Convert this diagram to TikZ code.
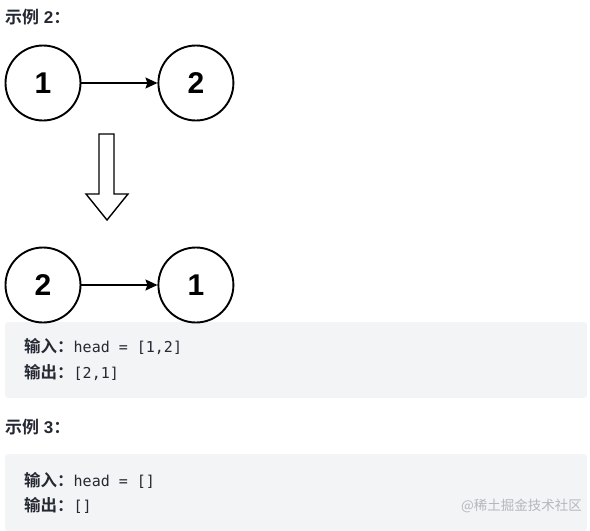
\documentclass[tikz,border=0pt]{standalone}
\usepackage{fontspec}
\setmainfont{Liberation Sans}
\setmonofont{DejaVu Sans Mono}
\newfontfamily\cjk{Noto Sans CJK SC}[BoldFont={Noto Sans CJK SC Bold}]
\usetikzlibrary{arrows.meta, positioning}
\definecolor{codebg}{HTML}{F3F4F5}
\definecolor{ink}{HTML}{252933}
\definecolor{wmgray}{HTML}{B4B7BC}
\tikzset{
  listnode/.style={circle, draw=black, line width=1.9pt, minimum size=75pt, inner sep=0pt, font=\fontsize{30}{30}\selectfont\bfseries},
  link/.style={-{Stealth[length=12pt,width=11pt,inset=2pt]}, line width=1.6pt},
  codebox/.style={fill=codebg, rounded corners=3pt},
  heading/.style={anchor=base west, inner sep=0pt, text=ink, font=\fontsize{17}{20}\selectfont\bfseries},
  codeline/.style={anchor=base west, inner sep=0pt, text=ink, font=\fontsize{15}{18}\selectfont},
  hollow/.style={draw=black, line width=1.4pt, line join=miter, fill=white},
}
\newcommand{\lbl}[1]{{\cjk\bfseries\fontsize{16.5}{18}\selectfont #1}}
\newcommand{\code}[1]{{\ttfamily #1}}

\begin{document}
\begin{tikzpicture}[x=1pt, y=-1pt, node distance=76pt]
\useasboundingbox (0,0) rectangle (590,531);
% grey code panels
\fill[codebox] (5,322) rectangle (587,398);
\fill[codebox] (5,454) rectangle (587,531);

\node[heading] (ex2) at (5,23) {{\cjk 示例} 2{\cjk ：}};

% before
\node[listnode] (a1) at (43,83) {1};
\node[listnode, right=of a1] (a2) {2};
\draw[link] (a1) -- (a2);

% big down arrow
\draw[hollow] (99,134) -- (114,134) -- (114,194) -- (128,194) -- (107,220) -- (86,194) -- (99,194) -- cycle;

% after
\node[listnode] (b2) at (43,285) {2};
\node[listnode, right=of b2] (b1) {1};
\draw[link] (b2) -- (b1);

\node[codeline] (in2) at (24,352) {\lbl{输入：}\code{head = [1,2]}};
\node[codeline] (out2) at (24,378) {\lbl{输出：}\code{[2,1]}};

\node[heading] (ex3) at (5,433) {{\cjk 示例} 3{\cjk ：}};
\node[codeline] (in3) at (24,486) {\lbl{输入：}\code{head = []}};
\node[codeline] (out3) at (24,511) {\lbl{输出：}\code{[]}};
\node[anchor=base east, inner sep=0pt, text=wmgray, font=\cjk\fontsize{13.5}{15}\selectfont] (wm) at (582,510) {@稀土掘金技术社区};
\end{tikzpicture}
\end{document}
